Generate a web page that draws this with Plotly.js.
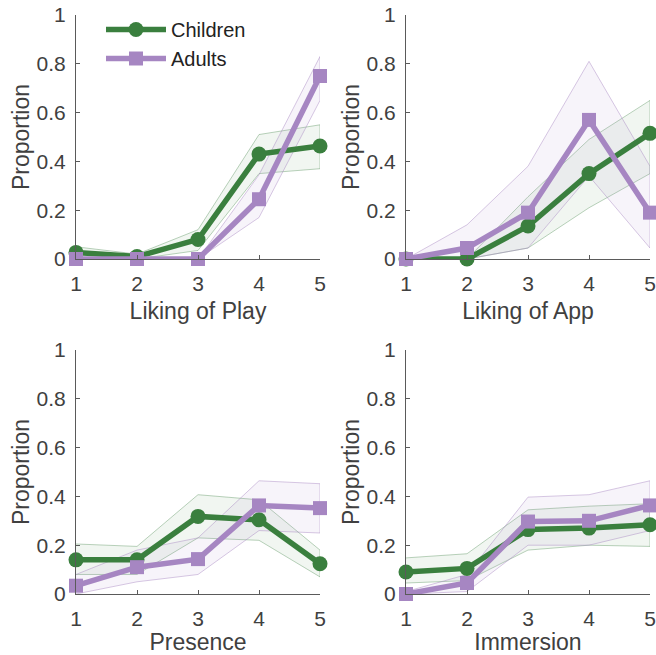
<!DOCTYPE html>
<html>
<head>
<meta charset="utf-8">
<script src="https://cdn.plot.ly/plotly-3.0.1.min.js"></script>
<style>html,body{margin:0;padding:0;background:#fff}#chart{width:656px;height:655px}</style>
</head>
<body>
<div id="chart"></div>
<script>
// ---- data ----
const levels = [1, 2, 3, 4, 5];
const panelTitles = ['Liking of Play', 'Liking of App', 'Presence', 'Immersion'];
const groupNames = ['Children', 'Adults'];

const childPlay   = [0.027, 0.01, 0.08, 0.43, 0.463];
const childPlayHi = [0.05, 0.02, 0.12, 0.51, 0.55];
const childPlayLo = [0, 0, 0.035, 0.35, 0.37];
const adultPlay   = [0, 0, 0, 0.245, 0.75];
const adultPlayHi = [0, 0, 0, 0.345, 0.83];
const adultPlayLo = [0, 0, 0, 0.17, 0.65];

const childApp   = [0, 0, 0.135, 0.35, 0.515];
const childAppHi = [0, 0, 0.255, 0.49, 0.65];
const childAppLo = [0, 0, 0.045, 0.21, 0.35];
const adultApp   = [0, 0.045, 0.19, 0.57, 0.19];
const adultAppHi = [0, 0.14, 0.38, 0.81, 0.38];
const adultAppLo = [0, 0, 0.045, 0.34, 0.045];

const childPres   = [0.14, 0.14, 0.318, 0.304, 0.124];
const childPresHi = [0.205, 0.195, 0.407, 0.386, 0.18];
const childPresLo = [0.08, 0.08, 0.23, 0.22, 0.07];
const adultPres   = [0.034, 0.11, 0.143, 0.363, 0.352];
const adultPresHi = [0.08, 0.18, 0.23, 0.464, 0.452];
const adultPresLo = [0, 0.05, 0.08, 0.26, 0.25];

const childImm   = [0.09, 0.105, 0.264, 0.27, 0.284];
const childImmHi = [0.148, 0.165, 0.345, 0.36, 0.37];
const childImmLo = [0.045, 0.055, 0.18, 0.2, 0.195];
const adultImm   = [0, 0.045, 0.297, 0.3, 0.363];
const adultImmHi = [0.01, 0.08, 0.397, 0.407, 0.464];
const adultImmLo = [0, 0.01, 0.2, 0.2, 0.26];

const yTickVals = [0, 0.2, 0.4, 0.6, 0.8, 1];
const yTickText = ['0', '0.2', '0.4', '0.6', '0.8', '1'];

// ---- styles ----
const GREEN = '#3a7f3e';
const PURPLE = '#a686c2';
const GREEN_FILL = 'rgba(58,127,62,0.07)';
const PURPLE_FILL = 'rgba(180,150,210,0.10)';
const GREEN_EDGE = 'rgba(58,127,62,0.35)';
const PURPLE_EDGE = 'rgba(166,134,194,0.45)';
const TXT = '#404040';
const FONT = 'Liberation Sans, Arial, Helvetica, sans-serif';

const panels = [
  {c: childPlay, cHi: childPlayHi, cLo: childPlayLo, a: adultPlay, aHi: adultPlayHi, aLo: adultPlayLo},
  {c: childApp, cHi: childAppHi, cLo: childAppLo, a: adultApp, aHi: adultAppHi, aLo: adultAppLo},
  {c: childPres, cHi: childPresHi, cLo: childPresLo, a: adultPres, aHi: adultPresHi, aLo: adultPresLo},
  {c: childImm, cHi: childImmHi, cLo: childImmLo, a: adultImm, aHi: adultImmHi, aLo: adultImmLo}
];

function band(hi, lo, fill, edge, xa, ya) {
  return {
    x: levels.concat(levels.slice().reverse()),
    y: hi.concat(lo.slice().reverse()),
    xaxis: xa, yaxis: ya,
    type: 'scatter', mode: 'lines', fill: 'toself',
    fillcolor: fill, line: {color: edge, width: 1},
    hoverinfo: 'skip', showlegend: false
  };
}

const traces = [];
panels.forEach((p, i) => {
  const xa = 'x' + (i === 0 ? '' : i + 1);
  const ya = 'y' + (i === 0 ? '' : i + 1);
  traces.push(band(p.cHi, p.cLo, GREEN_FILL, GREEN_EDGE, xa, ya));
  traces.push(band(p.aHi, p.aLo, PURPLE_FILL, PURPLE_EDGE, xa, ya));
  traces.push({
    x: levels, y: p.c, xaxis: xa, yaxis: ya, type: 'scatter', mode: 'lines+markers',
    name: groupNames[0], legendgroup: 'c', showlegend: i === 0, cliponaxis: false,
    line: {color: GREEN, width: 5.5}, marker: {symbol: 'circle', size: 15, color: GREEN}
  });
  traces.push({
    x: levels, y: p.a, xaxis: xa, yaxis: ya, type: 'scatter', mode: 'lines+markers',
    name: groupNames[1], legendgroup: 'a', showlegend: i === 0, cliponaxis: false,
    line: {color: PURPLE, width: 5.5}, marker: {symbol: 'square', size: 14, color: PURPLE}
  });
});

const W = 656, H = 655;
const colX = [[76 / W, 320 / W], [406 / W, 650 / W]];
const rowY = [[1 - 259 / H, 1 - 15 / H], [1 - 594 / H, 1 - 350 / H]];

const layout = {
  width: W, height: H,
  margin: {l: 0, r: 0, t: 0, b: 0},
  paper_bgcolor: '#fff', plot_bgcolor: 'rgba(0,0,0,0)',
  font: {family: FONT, color: TXT, size: 20},
  showlegend: true,
  legend: {
    x: 101 / W, y: 1 - 10 / H, xanchor: 'left', yanchor: 'top',
    bgcolor: 'rgba(0,0,0,0)', font: {size: 20, color: '#222'},
    tracegroupgap: 0, itemwidth: 60
  }
};

panels.forEach((p, i) => {
  const sfx = i === 0 ? '' : String(i + 1);
  const col = i % 2, row = Math.floor(i / 2);
  layout['xaxis' + sfx] = {
    domain: colX[col], anchor: 'y' + sfx, range: [1, 5],
    tickvals: levels, ticktext: levels.map(String),
    showline: true, linecolor: '#5a5a5a', linewidth: 1,
    ticks: 'inside', ticklen: 4, tickcolor: '#5a5a5a',
    showgrid: false, zeroline: false, fixedrange: true,
    ticklabelstandoff: 6,
    tickfont: {size: 21, color: TXT},
    title: {text: panelTitles[i], font: {size: 23, color: TXT}, standoff: 8}
  };
  layout['yaxis' + sfx] = {
    domain: rowY[row], anchor: 'x' + sfx, range: [0, 1],
    tickvals: yTickVals, ticktext: yTickText,
    showline: true, linecolor: '#5a5a5a', linewidth: 1,
    ticks: 'inside', ticklen: 4, tickcolor: '#5a5a5a',
    showgrid: false, zeroline: false, fixedrange: true,
    ticklabelstandoff: 5,
    tickfont: {size: 21, color: TXT},
    title: {text: 'Proportion', font: {size: 23, color: TXT}, standoff: 0}
  };
});

Plotly.newPlot('chart', traces, layout, {displayModeBar: false, staticPlot: true});
</script>
</body>
</html>
